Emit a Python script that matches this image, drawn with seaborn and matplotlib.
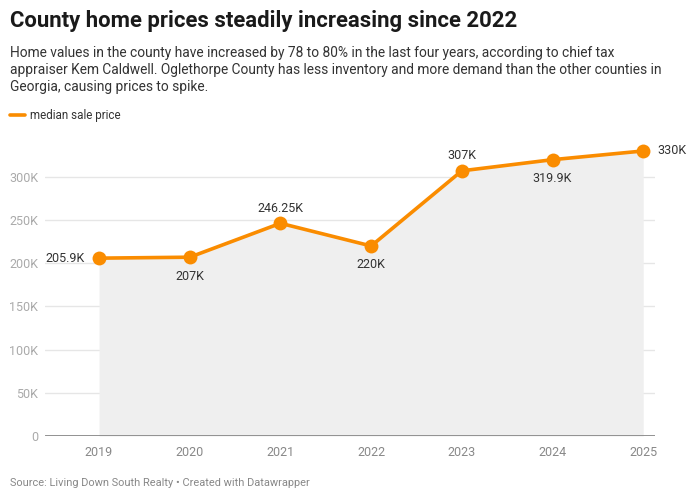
import matplotlib
matplotlib.use("Agg")
import matplotlib.pyplot as plt
import seaborn as sns
import pandas as pd

years = [2019, 2020, 2021, 2022, 2023, 2024, 2025]
prices = [205900, 207000, 246250, 220000, 307000, 319900, 330000]
labels = ["205.9K", "207K", "246.25K", "220K", "307K", "319.9K", "330K"]
label_pos = ["left", "below", "above", "below", "above", "below", "right"]
yticks = [0, 50000, 100000, 150000, 200000, 250000, 300000]
ytick_labels = ["0", "50K", "100K", "150K", "200K", "250K", "300K"]
series_name = "median sale price"

df = pd.DataFrame({"year": years, "price": prices})

sns.set_theme(style="white")
plt.rcParams["font.family"] = ["Roboto", "DejaVu Sans"]

ORANGE = "#fa8c00"
fig = plt.figure(figsize=(6.94, 5.0), dpi=100)
ax = fig.add_axes([45/694, 1-436/500, (655-45)/694, (436-138)/500])

ax.fill_between(df["year"], df["price"], 0, color="#efefef", zorder=1, linewidth=0)
sns.lineplot(data=df, x="year", y="price", ax=ax, color=ORANGE, linewidth=2.6,
             marker="o", markersize=10, markeredgewidth=0, zorder=3)

ax.set_xlim(2018.404, 2025.13)
ax.set_ylim(0, 345000)
ax.set_yticks(yticks)
ax.set_yticklabels(ytick_labels)
ax.set_xticks(years)
ax.set_xticklabels([str(y) for y in years])
ax.set_xlabel("")
ax.set_ylabel("")
for s in ax.spines.values():
    s.set_visible(False)
ax.grid(axis="y", color="#e6e6e6", linewidth=1, zorder=0)
ax.grid(axis="x", visible=False)
ax.axhline(0, color="#888888", linewidth=2, zorder=2)
ax.tick_params(axis="y", length=0, pad=5, labelsize=9, labelcolor="#aaaaaa")
ax.tick_params(axis="x", length=0, pad=7, labelsize=9, labelcolor="#888888")
for lab in ax.get_yticklabels():
    lab.set_horizontalalignment("right")

for x, y, t, p in zip(years, prices, labels, label_pos):
    if p == "left":
        ax.annotate(t, (x, y), xytext=(-10, 0), textcoords="offset points",
                    ha="right", va="center", fontsize=9, color="#333333")
    elif p == "right":
        ax.annotate(t, (x, y), xytext=(10, 0), textcoords="offset points",
                    ha="left", va="center", fontsize=9, color="#333333")
    elif p == "above":
        ax.annotate(t, (x, y), xytext=(0, 6), textcoords="offset points",
                    ha="center", va="bottom", fontsize=9, color="#333333")
    else:
        ax.annotate(t, (x, y), xytext=(0, -9), textcoords="offset points",
                    ha="center", va="top", fontsize=9, color="#333333")

fig.text(10/694, 1-21/500, "County home prices steadily increasing since 2022",
         fontsize=15.9, fontweight="bold", color="#1a1a1a", va="center", ha="left")
fig.text(10/694, 1-46/500,
         "Home values in the county have increased by 78 to 80% in the last four years, according to chief tax\n"
         "appraiser Kem Caldwell. Oglethorpe County has less inventory and more demand than the other counties in\n"
         "Georgia, causing prices to spike.",
         fontsize=9.9, color="#333333", va="top", ha="left", linespacing=1.28)
fig.lines.append(plt.Line2D([10/694, 25/694], [1-115/500, 1-115/500], transform=fig.transFigure,
                            color=ORANGE, linewidth=2.6, solid_capstyle="round"))
fig.text(30/694, 1-115.5/500, series_name, fontsize=8.4, color="#333333", va="center", ha="left")
fig.text(10/694, 1-483/500, "Source: Living Down South Realty • Created with Datawrapper",
         fontsize=7.95, color="#888888", va="center", ha="left")

fig.savefig("out.png", dpi=100, facecolor="white")
